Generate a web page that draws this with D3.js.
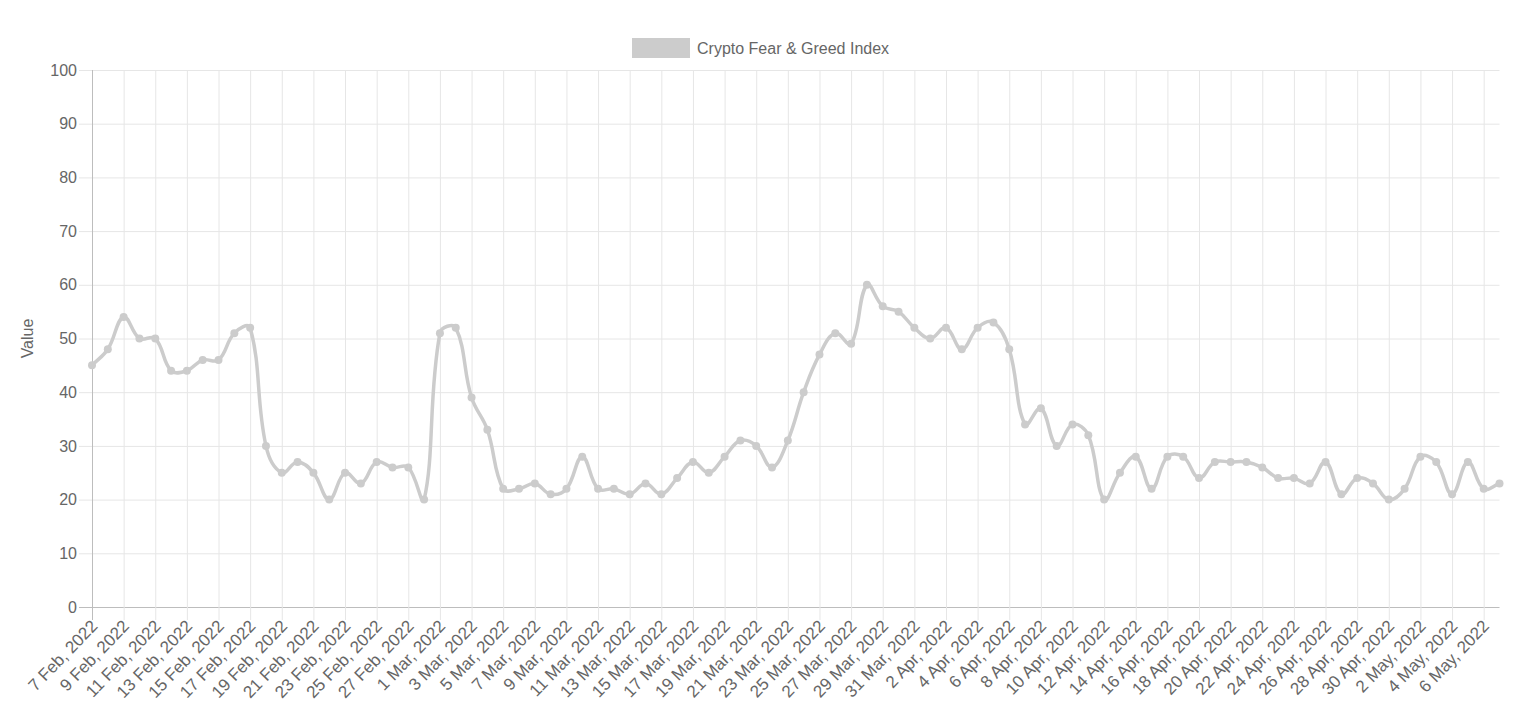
<!DOCTYPE html>
<html>
<head>
<meta charset="utf-8">
<script src="https://cdn.jsdelivr.net/npm/d3@7"></script>
<style>
  body { margin: 0; background: #fff; }
  svg { display: block; font-family: "Liberation Sans", Arial, Helvetica, sans-serif; }
</style>
</head>
<body>
<div id="chart"></div>
<script>
// categories: one point per day, 7 Feb 2022 .. 7 May 2022
const firstDay = new Date(2022, 1, 7);
const dayAfterLast = new Date(2022, 4, 8);
const days = d3.timeDay.range(firstDay, dayAfterLast);
const dayLabel = d3.timeFormat("%-d %b, %Y");
const categories = days.map(dayLabel);

// index values, month by month
const febValues = [45, 48, 54, 50, 50, 44, 44, 46, 46, 51, 52, 30, 25, 27, 25, 20, 25, 23, 27, 26, 26, 20];
const marValues = [51, 52, 39, 33, 22, 22, 23, 21, 22, 28, 22, 22, 21, 23, 21, 24, 27, 25, 28, 31, 30, 26, 31, 40, 47, 51, 49, 60, 56, 55, 52];
const aprValues = [50, 52, 48, 52, 53, 48, 34, 37, 30, 34, 32, 20, 25, 28, 22, 28, 28, 24, 27, 27, 27, 26, 24, 24, 23, 27, 21, 24, 23, 20];
const mayValues = [22, 28, 27, 21, 27, 22, 23];
const values = [...febValues, ...marValues, ...aprValues, ...mayValues];

// only every other day gets a label (and a grid line)
const tickLabels = categories.filter((d, i) => i % 2 === 0);
const yTicks = d3.range(0, 101, 10);

const seriesName = "Crypto Fear & Greed Index";
const lineColor = "#cccccc";
const gridColor = "#e6e6e6";
const axisColor = "#bdbdbd";
const textColor = "#666";

// chart dimensions
const width = 1536;
const height = 720;
const marginTop = 70;
const marginRight = 36.5;
const marginBottom = 113;
const marginLeft = 92;
const tickLen = 13;

const svg = d3.select("#chart").append("svg")
    .attr("width", width)
    .attr("height", height)
    .attr("viewBox", [0, 0, width, height]);

const x = d3.scalePoint()
    .domain(categories)
    .range([marginLeft, width - marginRight]);

const y = d3.scaleLinear()
    .domain([0, 100])
    .range([height - marginBottom, marginTop]);

// horizontal grid
svg.append("g")
    .selectAll("line")
    .data(yTicks)
    .join("line")
    .attr("x1", marginLeft - tickLen)
    .attr("x2", width - marginRight)
    .attr("y1", d => y(d) + 0.5)
    .attr("y2", d => y(d) + 0.5)
    .attr("stroke", d => d === 0 ? axisColor : gridColor)
    .attr("stroke-width", 1);

// vertical grid
svg.append("g")
    .selectAll("line")
    .data(tickLabels)
    .join("line")
    .attr("x1", d => x(d) + 0.5)
    .attr("x2", d => x(d) + 0.5)
    .attr("y1", marginTop)
    .attr("y2", height - marginBottom + tickLen)
    .attr("stroke", (d, i) => i === 0 ? axisColor : gridColor)
    .attr("stroke-width", 1);

// y axis labels
svg.append("g")
    .attr("transform", `translate(${marginLeft},0)`)
    .call(d3.axisLeft(y).tickValues(yTicks).tickSize(tickLen).tickPadding(2))
    .call(g => g.select(".domain").remove())
    .call(g => g.selectAll(".tick line").remove())
    .call(g => g.selectAll("text")
        .attr("fill", textColor)
        .attr("font-size", 16)
        .attr("font-family", null));

// x axis labels, rotated
svg.append("g")
    .attr("transform", `translate(0,${height - marginBottom})`)
    .call(d3.axisBottom(x).tickValues(tickLabels).tickSize(0))
    .call(g => g.select(".domain").remove())
    .call(g => g.selectAll("text")
        .attr("fill", textColor)
        .attr("font-size", 17)
        .attr("font-family", null)
        .attr("text-anchor", "end")
        .attr("x", 0)
        .attr("y", 0)
        .attr("dy", 0)
        .attr("transform", "translate(6,20) rotate(-46)"));

// y axis title
svg.append("text")
    .attr("transform", `translate(33,${(marginTop + height - marginBottom) / 2}) rotate(-90)`)
    .attr("text-anchor", "middle")
    .attr("fill", textColor)
    .attr("font-size", 16)
    .text("Value");

// legend
const legend = svg.append("g");
legend.append("rect")
    .attr("x", 632)
    .attr("y", 38)
    .attr("width", 58)
    .attr("height", 20)
    .attr("fill", lineColor);
legend.append("text")
    .attr("x", 697)
    .attr("y", 53.5)
    .attr("fill", textColor)
    .attr("font-size", 16)
    .text(seriesName);

// line: same spline as Chart.js (tension 0.4, distance weighted)
const pts = values.map((v, i) => [x(categories[i]), y(v)]);

function splinePath(points, t) {
  const ctrl = points.map((p, i) => {
    const prev = points[i - 1] || p;
    const next = points[i + 1] || p;
    const d01 = Math.hypot(p[0] - prev[0], p[1] - prev[1]);
    const d12 = Math.hypot(next[0] - p[0], next[1] - p[1]);
    let s01 = d01 / (d01 + d12);
    let s12 = d12 / (d01 + d12);
    if (isNaN(s01)) s01 = 0;
    if (isNaN(s12)) s12 = 0;
    const fa = t * s01, fb = t * s12;
    return {
      before: [p[0] - fa * (next[0] - prev[0]), p[1] - fa * (next[1] - prev[1])],
      after: [p[0] + fb * (next[0] - prev[0]), p[1] + fb * (next[1] - prev[1])]
    };
  });
  const path = d3.path();
  path.moveTo(points[0][0], points[0][1]);
  for (let i = 1; i < points.length; i++) {
    path.bezierCurveTo(
      ctrl[i - 1].after[0], ctrl[i - 1].after[1],
      ctrl[i].before[0], ctrl[i].before[1],
      points[i][0], points[i][1]);
  }
  return path.toString();
}

svg.append("path")
    .attr("d", splinePath(pts, 0.4))
    .attr("fill", "none")
    .attr("stroke", lineColor)
    .attr("stroke-width", 3.5)
    .attr("stroke-linejoin", "round");

svg.append("g")
    .selectAll("circle")
    .data(values)
    .join("circle")
    .attr("cx", (d, i) => x(categories[i]))
    .attr("cy", d => y(d))
    .attr("r", 4)
    .attr("fill", lineColor)
    .append("title")
    .text((d, i) => `${categories[i]}: ${d}`);
</script>
</body>
</html>
